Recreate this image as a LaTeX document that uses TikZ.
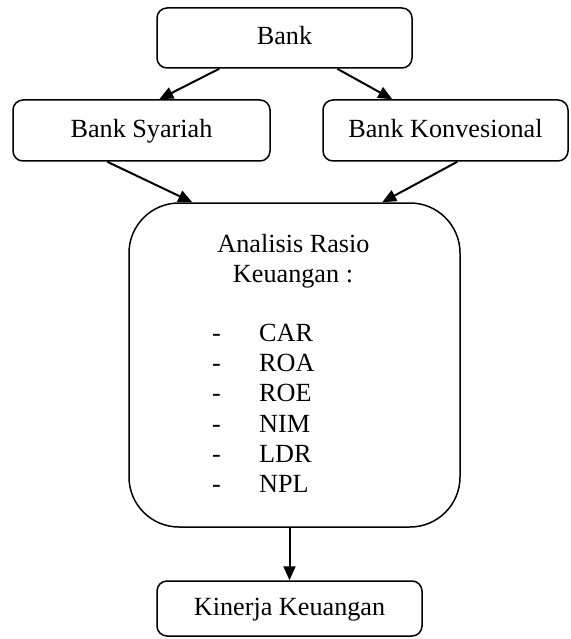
\documentclass[tikz,border=0pt]{standalone}
\usepackage{fontspec}
\setmainfont{Liberation Serif}
\usetikzlibrary{arrows.meta}
\begin{document}
\begin{tikzpicture}[x=1pt,y=-1pt,
  every node/.style={font=\fontsize{26.2}{30}\selectfont},
  box/.style={draw, line width=1.5pt, rounded corners=10pt, inner sep=0pt,
              text height=18.3pt, text depth=5.2pt},
  lbl/.style={inner sep=0pt},
  arr/.style={line width=2pt, -{Triangle[length=14pt,width=12pt]}}]
\useasboundingbox (0,0) rectangle (570,639);
\node[box, minimum width=255pt, minimum height=60pt] (bank) at (284.5,38) {Bank};
\node[box, minimum width=257pt, minimum height=61pt] (syariah) at (141.5,130.5) {Bank Syariah};
\node[box, minimum width=245pt, minimum height=61pt] (konv) at (445.5,130.5) {Bank Konvesional};
\node[box, rounded corners=50pt, minimum width=331pt, minimum height=324pt] (big) at (294.5,365) {};
\node[box, minimum width=265pt, minimum height=55pt] (kinerja) at (289.5,608.5) {Kinerja Keuangan};
% texts inside the big box
\node[lbl, anchor=base] (t1) at (293.5,252) {Analisis Rasio};
\node[lbl, anchor=base] (t2) at (293,282) {Keuangan :};
\foreach \y/\t [count=\i] in {341/CAR,371/ROA,401/ROE,432/NIM,462/LDR,492/NPL}{
  \node[lbl, anchor=base west] (d\i) at (212,\y) {-};
  \node[lbl, anchor=base west] (i\i) at (259,\y) {\t};
}
% connectors
\draw[arr] ([xshift=63pt]bank.south west) -- ([xshift=147pt]syariah.north west);
\draw[arr] ([xshift=181pt]bank.south west) -- ([xshift=70pt]konv.north west);
\draw[arr] ([xshift=95pt]syariah.south west) -- ([xshift=64pt]big.north west);
\draw[arr] ([xshift=135pt]konv.south west) -- ([xshift=254pt]big.north west);
\draw[arr] (kinerja.north |- big.south) -- (kinerja.north);
\end{tikzpicture}
\end{document}
